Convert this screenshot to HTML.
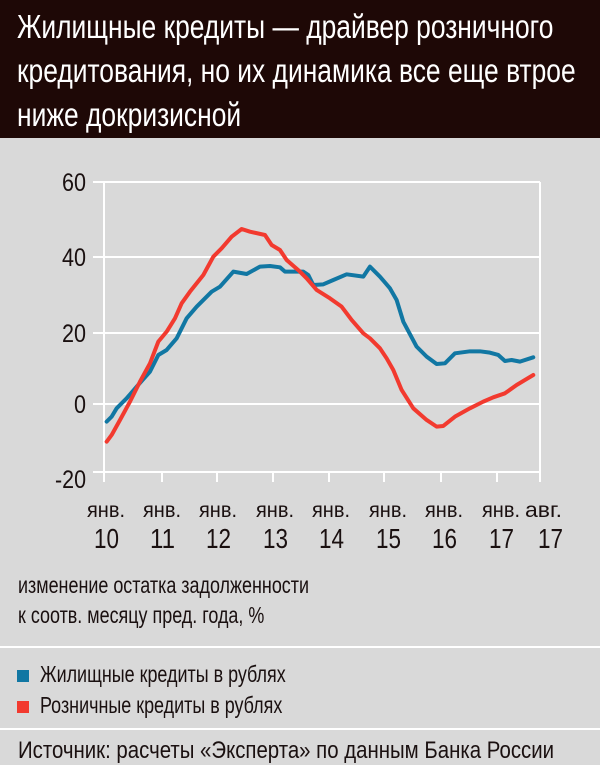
<!DOCTYPE html>
<html><head><meta charset="utf-8"><style>
body{margin:0;width:600px;height:765px;background:#d9d9d9;overflow:hidden;font-family:"Liberation Sans",sans-serif;position:relative}
.hd{position:absolute;left:0;top:0;width:600px;height:138px;background:#1e0806}
.t{position:absolute;left:17px;color:#fff;font-size:33px;white-space:nowrap;transform:scaleX(0.8);transform-origin:0 0}
.tx{position:absolute;color:#1a1010;font-size:23px;white-space:nowrap;transform:scaleX(0.78);transform-origin:0 0}
.sep{position:absolute;left:0;width:600px;height:2px;background:#fff}
.sq{position:absolute;left:17px;width:12px;height:12px}
</style></head><body>
<div class="hd"></div>
<div class="t" style="top:8px">Жилищные кредиты — драйвер розничного</div>
<div class="t" style="top:52px">кредитования, но их динамика все еще втрое</div>
<div class="t" style="top:96px">ниже докризисной</div>
<svg width="600" height="765" style="position:absolute;left:0;top:0">
<g stroke="#fff" stroke-width="2" fill="none">
<line x1="93" y1="182" x2="540" y2="182"/>
<line x1="93" y1="257" x2="540" y2="257"/>
<line x1="93" y1="333" x2="540" y2="333"/>
<line x1="93" y1="404" x2="540" y2="404"/>
<line x1="93" y1="472" x2="540" y2="472"/>
<line x1="104" y1="182" x2="104" y2="482"/>
<line x1="540" y1="182" x2="540" y2="482"/>
<line x1="162" y1="472" x2="162" y2="482"/>
<line x1="217" y1="472" x2="217" y2="482"/>
<line x1="273" y1="472" x2="273" y2="482"/>
<line x1="329" y1="472" x2="329" y2="482"/>
<line x1="384" y1="472" x2="384" y2="482"/>
<line x1="441" y1="472" x2="441" y2="482"/>
<line x1="497" y1="472" x2="497" y2="482"/>
</g>
<g transform="translate(50,160) scale(0.3333)" fill="none" stroke-width="12" stroke-linejoin="round" stroke-linecap="round">
<polyline stroke="#1177a3" points="170,785 185,770 200,745 230,715 260,680 300,635 325,585 350,570 380,535 410,475 440,440 470,410 485,395 510,380 550,335 590,342 630,320 660,318 690,322 705,335 760,335 775,345 790,375 820,373 850,360 890,343 940,350 960,320 990,350 1020,385 1040,420 1060,485 1100,560 1130,590 1160,612 1185,610 1215,580 1260,574 1290,574 1320,578 1345,585 1365,603 1385,600 1410,605 1450,592"/>
<polyline stroke="#f23a2f" points="170,845 185,825 210,780 240,725 270,665 300,610 325,545 350,515 375,475 395,430 420,395 460,345 490,290 515,265 545,230 575,207 600,215 645,225 665,255 690,270 710,300 750,335 770,355 800,390 840,415 875,440 905,480 940,520 960,535 990,565 1010,595 1030,630 1055,690 1090,745 1130,780 1160,800 1180,798 1215,770 1260,745 1300,725 1330,712 1365,700 1400,675 1450,645"/>
</g>
<g font-family="Liberation Sans, sans-serif" font-size="25" fill="#1a1010">
<text x="62" y="191" textLength="24" lengthAdjust="spacingAndGlyphs">60</text>
<text x="62" y="266" textLength="24" lengthAdjust="spacingAndGlyphs">40</text>
<text x="62" y="342" textLength="24" lengthAdjust="spacingAndGlyphs">20</text>
<text x="74" y="413" textLength="12" lengthAdjust="spacingAndGlyphs">0</text>
<text x="55" y="488" textLength="31" lengthAdjust="spacingAndGlyphs">-20</text>
</g>
<g font-family="Liberation Sans, sans-serif" fill="#1a1010">
<g font-size="21">
<text x="87" y="517" textLength="38" lengthAdjust="spacingAndGlyphs">янв.</text>
<text x="143" y="517" textLength="38" lengthAdjust="spacingAndGlyphs">янв.</text>
<text x="199" y="517" textLength="38" lengthAdjust="spacingAndGlyphs">янв.</text>
<text x="256" y="517" textLength="38" lengthAdjust="spacingAndGlyphs">янв.</text>
<text x="312" y="517" textLength="38" lengthAdjust="spacingAndGlyphs">янв.</text>
<text x="369" y="517" textLength="38" lengthAdjust="spacingAndGlyphs">янв.</text>
<text x="425" y="517" textLength="38" lengthAdjust="spacingAndGlyphs">янв.</text>
<text x="482" y="517" textLength="38" lengthAdjust="spacingAndGlyphs">янв.</text>
<text x="525" y="517" textLength="37" lengthAdjust="spacingAndGlyphs">авг.</text>
</g>
<g font-size="28">
<text x="94" y="548" textLength="25" lengthAdjust="spacingAndGlyphs">10</text>
<text x="150" y="548" textLength="25" lengthAdjust="spacingAndGlyphs">11</text>
<text x="206" y="548" textLength="25" lengthAdjust="spacingAndGlyphs">12</text>
<text x="263" y="548" textLength="25" lengthAdjust="spacingAndGlyphs">13</text>
<text x="319" y="548" textLength="25" lengthAdjust="spacingAndGlyphs">14</text>
<text x="376" y="548" textLength="25" lengthAdjust="spacingAndGlyphs">15</text>
<text x="432" y="548" textLength="25" lengthAdjust="spacingAndGlyphs">16</text>
<text x="489" y="548" textLength="25" lengthAdjust="spacingAndGlyphs">17</text>
<text x="538" y="548" textLength="25" lengthAdjust="spacingAndGlyphs">17</text>
</g>
</g>
</svg>
<div class="tx" style="left:18px;top:572px">изменение остатка задолженности</div>
<div class="tx" style="left:18px;top:602px">к соотв. месяцу пред. года, %</div>
<div class="sep" style="top:646px"></div>
<div class="sq" style="top:670px;background:#1177a3"></div>
<div class="sq" style="top:701px;background:#f23a2f"></div>
<div class="tx" style="left:40px;top:661px">Жилищные кредиты в рублях</div>
<div class="tx" style="left:40px;top:692px">Розничные кредиты в рублях</div>
<div class="sep" style="top:728px"></div>
<div class="tx" style="left:18px;top:737px;font-size:24px;transform:scaleX(0.85)">Источник: расчеты «Эксперта» по данным Банка России</div>
</body></html>
